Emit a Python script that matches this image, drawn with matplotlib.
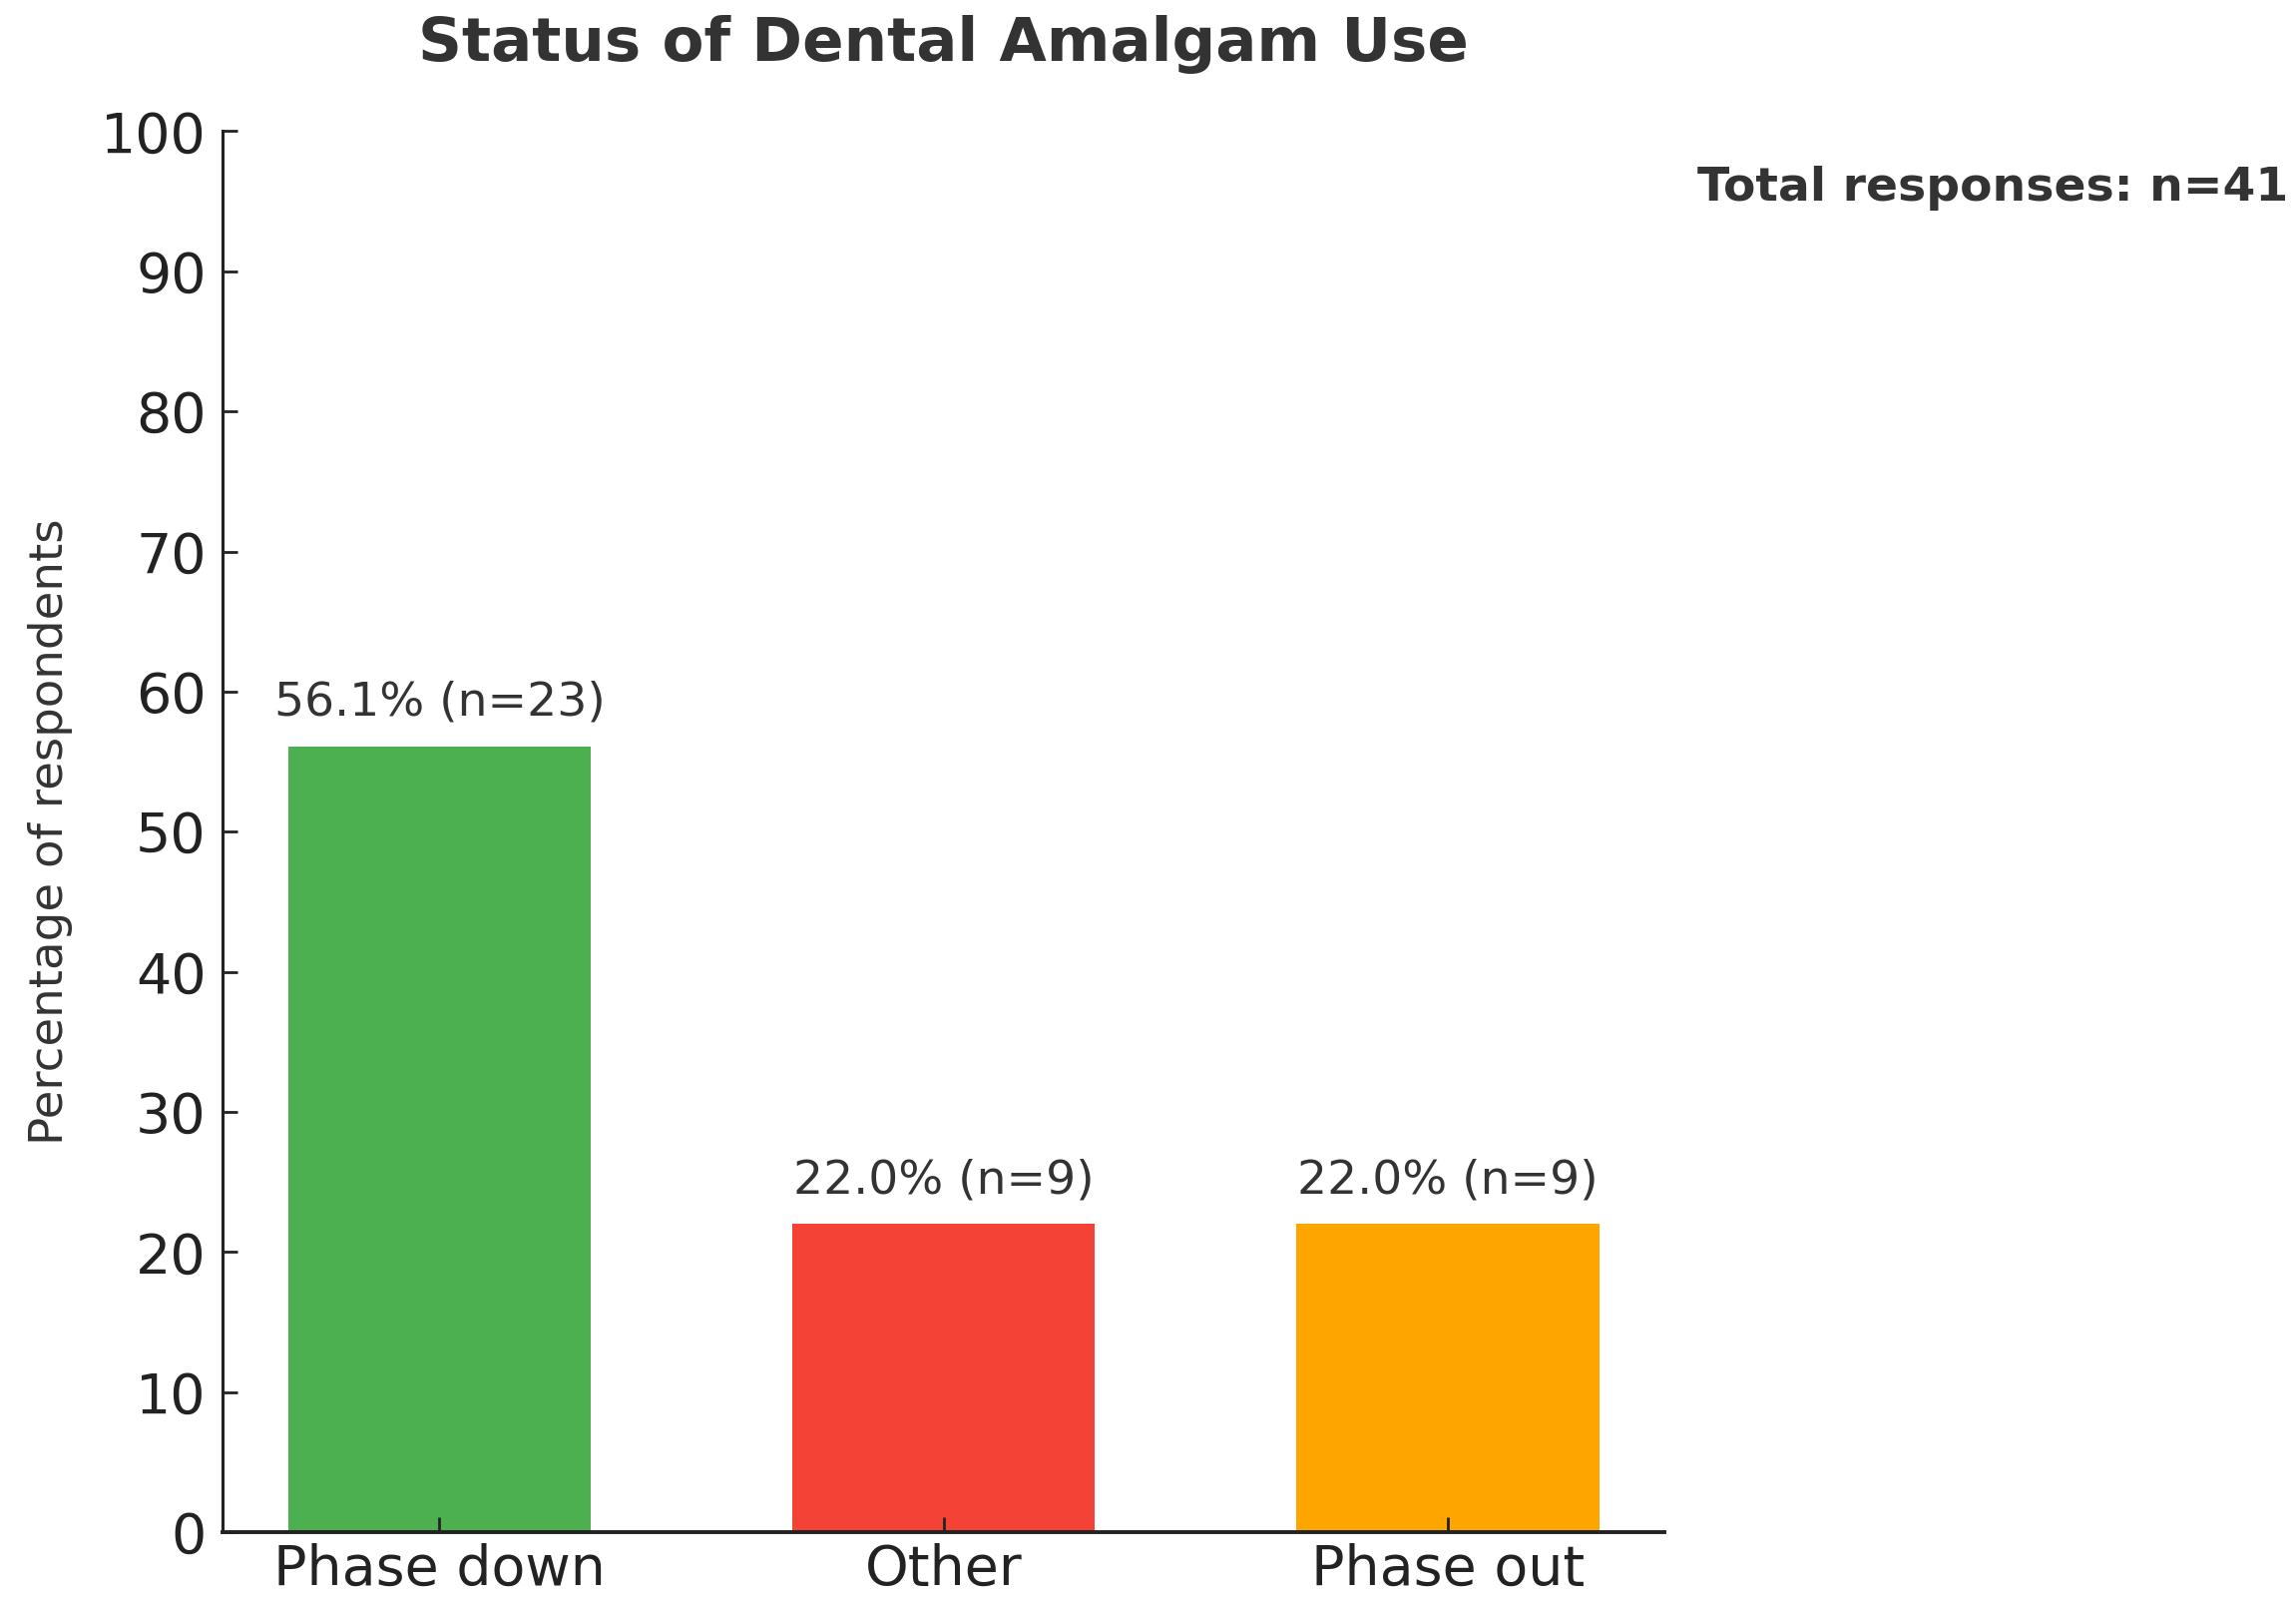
import numpy as np
import matplotlib.pyplot as plt

categories = ["Phase down", "Other", "Phase out"]
percentages = [56.1, 22.0, 22.0]
counts = [23, 9, 9]
total_n = 41
colors = ["#4CAF50", "#F44336", "#FFA500"]

fig = plt.figure(figsize=(11.505, 8.015), dpi=200)
ax = fig.add_axes([0.097, 0.0424, 0.628, 0.8756])

x = np.arange(len(categories))
ax.bar(x, percentages, width=0.6, color=colors)

for xi, p, n in zip(x, percentages, counts):
    ax.text(xi, p + 1.5, f"{p:.1f}% (n={n})", ha="center", va="bottom",
            fontsize=17, color="#333333")

ax.set_ylim(0, 100)
ax.set_yticks(np.arange(0, 101, 10))
ax.set_xticks(x)
ax.set_xticklabels(categories)
ax.tick_params(axis="both", labelsize=20, direction="in", length=5.5,
               width=1.0, colors="#222222", labelcolor="#222222")
ax.tick_params(axis="y", pad=6)
ax.tick_params(axis="x", pad=4)

ax.spines["top"].set_visible(False)
ax.spines["right"].set_visible(False)
ax.spines["left"].set_linewidth(1.1)
ax.spines["bottom"].set_linewidth(1.4)
ax.spines["left"].set_color("#222222")
ax.spines["bottom"].set_color("#222222")

ax.set_ylabel("Percentage of respondents", fontsize=16.8, color="#333333", labelpad=10)
ax.set_title("Status of Dental Amalgam Use", fontsize=22, fontweight="bold",
             color="#333333", pad=25.5)

ax.text(1.023, 0.959, f"Total responses: n={total_n}", transform=ax.transAxes,
        ha="left", va="center", fontsize=17, fontweight="bold", color="#333333")

plt.savefig("out.png", dpi=200)
